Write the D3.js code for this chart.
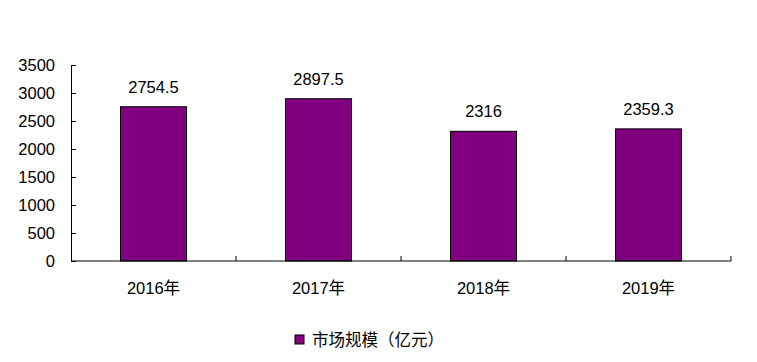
<!DOCTYPE html>
<html>
<head>
<meta charset="utf-8">
<script src="https://cdn.jsdelivr.net/npm/d3@7"></script>
<style>
  body { margin: 0; background: #fff; }
  svg text { font-family: "Liberation Sans", Arial, "Noto Sans CJK SC", sans-serif; fill: #000; }
</style>
</head>
<body>
<div id="chart"></div>
<script>
const categories = ['2016年', '2017年', '2018年', '2019年'];
const values = [2754.5, 2897.5, 2316, 2359.3];
const valueLabels = ['2754.5', '2897.5', '2316', '2359.3'];
const yTicks = [0, 500, 1000, 1500, 2000, 2500, 3000, 3500];
const seriesName = '市场规模（亿元）';

const width = 757, height = 362;
const plotLeft = 71, plotRight = 731, plotTop = 65, plotBottom = 261;
const fs = 16.5;

const svg = d3.select('#chart').append('svg')
  .attr('width', width)
  .attr('height', height);

const x = d3.scaleBand()
  .domain(categories)
  .range([plotLeft, plotRight])
  .paddingInner(0.6)
  .paddingOuter(0.3);

const y = d3.scaleLinear()
  .domain([0, 3500])
  .range([plotBottom, plotTop]);

// eje y
const yAxis = svg.append('g')
  .attr('transform', `translate(${plotLeft},0)`)
  .call(d3.axisLeft(y).tickValues(yTicks).tickFormat(d3.format('d'))
    .tickSizeInner(-5).tickSizeOuter(0).tickPadding(16));
yAxis.select('.domain').attr('stroke', '#000');
yAxis.selectAll('.tick line').attr('stroke', '#000');
yAxis.selectAll('.tick text')
  .attr('font-size', fs)
  .style('font-family', '"Liberation Sans", Arial, sans-serif');

// barras
svg.append('g')
  .selectAll('rect')
  .data(values)
  .join('rect')
  .attr('x', (d, i) => x(categories[i]))
  .attr('y', d => y(d))
  .attr('width', x.bandwidth())
  .attr('height', d => y(0) - y(d))
  .attr('fill', '#800080')
  .attr('stroke', '#000')
  .attr('stroke-width', 1);

// etiquetas de valor
svg.append('g')
  .selectAll('text')
  .data(values)
  .join('text')
  .attr('x', (d, i) => x(categories[i]) + x.bandwidth() / 2)
  .attr('y', d => y(d) - 14)
  .attr('text-anchor', 'middle')
  .attr('font-size', fs)
  .text((d, i) => valueLabels[i]);

// eje x, marcas entre categorias
const step = (plotRight - plotLeft) / categories.length;
const xa = svg.append('g');
xa.append('line')
  .attr('x1', plotLeft).attr('x2', plotRight)
  .attr('y1', y(0)).attr('y2', y(0))
  .attr('stroke', '#000');
xa.selectAll('line.tk')
  .data(d3.range(1, categories.length + 1))
  .join('line')
  .attr('class', 'tk')
  .attr('x1', i => plotLeft + i * step).attr('x2', i => plotLeft + i * step)
  .attr('y1', y(0)).attr('y2', y(0) - 5)
  .attr('stroke', '#000');
xa.selectAll('text')
  .data(categories)
  .join('text')
  .attr('x', d => x(d) + x.bandwidth() / 2)
  .attr('y', y(0) + 33)
  .attr('text-anchor', 'middle')
  .attr('font-size', fs)
  .text(d => d);

// leyenda
const lg = svg.append('g').attr('transform', 'translate(295,335)');
lg.append('rect')
  .attr('width', 9).attr('height', 9)
  .attr('fill', '#800080')
  .attr('stroke', '#000');
lg.append('text')
  .attr('x', 17).attr('y', 10.5)
  .attr('font-size', fs)
  .text(seriesName);
</script>
</body>
</html>
